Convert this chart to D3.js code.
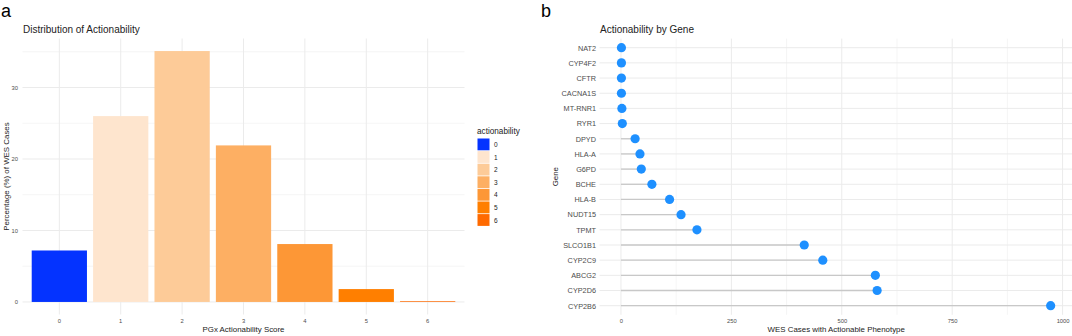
<!DOCTYPE html>
<html>
<head>
<meta charset="utf-8">
<script src="https://cdn.jsdelivr.net/npm/d3@7"></script>
<style>
  body { margin: 0; background: #fff; }
  svg { display: block; font-family: "Liberation Sans", Arial, sans-serif; }
  .grid line { stroke: #ebebeb; }
  .tick text { fill: #4d4d4d; font-size: 5.8px; }
  .genes .tick text { font-size: 7.3px; }
</style>
</head>
<body>
<svg id="chart" width="1072" height="336"></svg>
<script>
// panel a data
var scores = ["0", "1", "2", "3", "4", "5", "6"];
var percents = [7.2, 26.0, 35.1, 21.9, 8.1, 1.8, 0.1];
var scoreColors = ["#0433ff", "#fee5ce", "#fdcb98", "#fdaf63", "#fd9736", "#ff7f00", "#ff6a00"];
var yTicksA = [0, 10, 20, 30];

// panel b data
var genes = ["NAT2", "CYP4F2", "CFTR", "CACNA1S", "MT-RNR1", "RYR1", "DPYD", "HLA-A", "G6PD",
             "BCHE", "HLA-B", "NUDT15", "TPMT", "SLCO1B1", "CYP2C9", "ABCG2", "CYP2D6", "CYP2B6"];
var cases = [1, 1, 1, 1, 2, 3, 32, 43, 46, 70, 110, 136, 172, 415, 457, 576, 580, 973];
var xTicksB = [0, 250, 500, 750, 1000];

var svg = d3.select("#chart");

// ---------- panel a ----------
var a = { left: 22.5, right: 464.5, top: 38.5, bottom: 314.5 };

var xA = d3.scaleBand().domain(scores).range([a.left, a.right]).paddingOuter(0.15).paddingInner(0.1);
var yA = d3.scaleLinear().domain([-1.755, 36.855]).range([a.bottom, a.top]);

var gA = svg.append("g");

// minor grid
gA.append("g").attr("class", "grid")
  .selectAll("line").data([5, 15, 25, 35]).enter().append("line")
  .attr("x1", a.left).attr("x2", a.right)
  .attr("y1", function (d) { return yA(d); }).attr("y2", function (d) { return yA(d); })
  .attr("stroke-width", 0.5);
// major grid
gA.append("g").attr("class", "grid")
  .selectAll("line").data(yTicksA).enter().append("line")
  .attr("x1", a.left).attr("x2", a.right)
  .attr("y1", function (d) { return yA(d); }).attr("y2", function (d) { return yA(d); })
  .attr("stroke-width", 1);
gA.append("g").attr("class", "grid")
  .selectAll("line").data(scores).enter().append("line")
  .attr("x1", function (d) { return xA(d) + xA.bandwidth() / 2; })
  .attr("x2", function (d) { return xA(d) + xA.bandwidth() / 2; })
  .attr("y1", a.top).attr("y2", a.bottom)
  .attr("stroke-width", 1);

gA.selectAll("rect.bar").data(scores).enter().append("rect")
  .attr("class", "bar")
  .attr("x", function (d) { return xA(d); })
  .attr("width", xA.bandwidth())
  .attr("y", function (d, i) { return yA(percents[i]); })
  .attr("height", function (d, i) { return yA(0) - yA(percents[i]); })
  .attr("fill", function (d, i) { return scoreColors[i]; });

var axYA = gA.append("g").attr("transform", "translate(" + a.left + ",0)")
  .call(d3.axisLeft(yA).tickValues(yTicksA).tickSize(0).tickPadding(4.5));
axYA.select(".domain").remove();

var axXA = gA.append("g").attr("transform", "translate(0," + a.bottom + ")")
  .call(d3.axisBottom(xA).tickSize(0).tickPadding(4.5));
axXA.select(".domain").remove();

gA.append("text").attr("x", 23).attr("y", 33).attr("font-size", 10).attr("fill", "#222")
  .text("Distribution of Actionability");
gA.append("text").attr("x", (a.left + a.right) / 2).attr("y", 332).attr("text-anchor", "middle")
  .attr("font-size", 7.9).attr("fill", "#222").text("PGx Actionability Score");
gA.append("text").attr("transform", "translate(9," + (a.top + a.bottom) / 2 + ") rotate(-90)")
  .attr("text-anchor", "middle").attr("font-size", 7.9).attr("fill", "#222")
  .text("Percentage (%) of WES Cases");
svg.append("text").attr("x", 1).attr("y", 17).attr("font-size", 18).attr("fill", "#000").text("a");

// legend
var leg = svg.append("g").attr("transform", "translate(477,0)");
leg.append("text").attr("x", 0).attr("y", 134).attr("font-size", 8.2).attr("fill", "#222").text("actionability");
var keyH = 12.6;
leg.selectAll("rect").data(scores).enter().append("rect")
  .attr("x", 0.5).attr("y", function (d, i) { return 138.5 + i * keyH; })
  .attr("width", 12).attr("height", keyH - 0.8)
  .attr("fill", function (d, i) { return scoreColors[i]; });
leg.selectAll("text.lab").data(scores).enter().append("text")
  .attr("class", "lab")
  .attr("x", 17).attr("y", function (d, i) { return 138.5 + i * keyH + keyH / 2 + 2.2; })
  .attr("font-size", 6.5).attr("fill", "#222").text(function (d) { return d; });

// ---------- panel b ----------
var b = { left: 599.5, right: 1073, top: 38.6, bottom: 314.8 };

var xB = d3.scaleLinear().domain([-48.65, 1023.6]).range([b.left, b.right]);
var yB = d3.scalePoint().domain(genes).range([47.7, 305.7]);

var gB = svg.append("g");

gB.append("g").attr("class", "grid")
  .selectAll("line").data([125, 375, 625, 875]).enter().append("line")
  .attr("x1", function (d) { return xB(d); }).attr("x2", function (d) { return xB(d); })
  .attr("y1", b.top).attr("y2", b.bottom).attr("stroke-width", 0.5);
gB.append("g").attr("class", "grid")
  .selectAll("line").data(xTicksB).enter().append("line")
  .attr("x1", function (d) { return xB(d); }).attr("x2", function (d) { return xB(d); })
  .attr("y1", b.top).attr("y2", b.bottom).attr("stroke-width", 1);
gB.append("g").attr("class", "grid")
  .selectAll("line").data(genes).enter().append("line")
  .attr("x1", b.left).attr("x2", b.right)
  .attr("y1", function (d) { return yB(d); }).attr("y2", function (d) { return yB(d); })
  .attr("stroke-width", 1);

gB.selectAll("line.seg").data(genes).enter().append("line")
  .attr("class", "seg")
  .attr("x1", xB(0))
  .attr("x2", function (d, i) { return xB(cases[i]); })
  .attr("y1", function (d) { return yB(d); }).attr("y2", function (d) { return yB(d); })
  .attr("stroke", "#c8c8c8").attr("stroke-width", 1.3);

gB.selectAll("circle").data(genes).enter().append("circle")
  .attr("cx", function (d, i) { return xB(cases[i]); })
  .attr("cy", function (d) { return yB(d); })
  .attr("r", 4.6)
  .attr("fill", "#1e90ff");

var axYB = gB.append("g").attr("class", "genes").attr("transform", "translate(" + b.left + ",0)")
  .call(d3.axisLeft(yB).tickSize(0).tickPadding(3.5));
axYB.select(".domain").remove();

var axXB = gB.append("g").attr("transform", "translate(0," + b.bottom + ")")
  .call(d3.axisBottom(xB).tickValues(xTicksB).tickFormat(d3.format("d")).tickSize(0).tickPadding(4.5));
axXB.select(".domain").remove();

gB.append("text").attr("x", 600).attr("y", 33).attr("font-size", 10).attr("fill", "#222")
  .text("Actionability by Gene");
gB.append("text").attr("x", (b.left + b.right) / 2).attr("y", 332).attr("text-anchor", "middle")
  .attr("font-size", 7.9).attr("fill", "#222").text("WES Cases with Actionable Phenotype");
gB.append("text").attr("transform", "translate(558," + (b.top + b.bottom) / 2 + ") rotate(-90)")
  .attr("text-anchor", "middle").attr("font-size", 7.9).attr("fill", "#222").text("Gene");
svg.append("text").attr("x", 541).attr("y", 17).attr("font-size", 18).attr("fill", "#000").text("b");
</script>
</body>
</html>
